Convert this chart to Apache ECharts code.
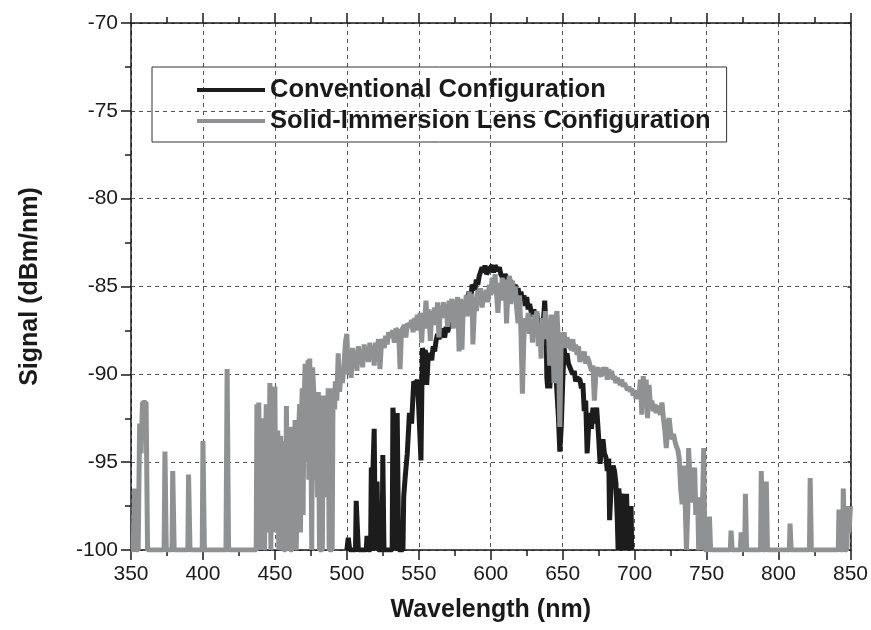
<!DOCTYPE html>
<html>
<head>
<meta charset="utf-8">
<script src="https://cdn.jsdelivr.net/npm/echarts@6/dist/echarts.min.js"></script>
<style>
  html, body { margin: 0; padding: 0; background: #fff; }
  #chart { width: 871px; height: 630px; }
</style>
</head>
<body>
<div id="chart"></div>
<script>
// x ticks (nm) and y ticks (dBm/nm)
const xTicks = [350, 400, 450, 500, 550, 600, 650, 700, 750, 800, 850]
const yTicks = [-100, -95, -90, -85, -80, -75, -70]

const seriesNames = ['Conventional Configuration', 'Solid-Immersion Lens Configuration']

// 常规配置 [wavelength, signal]
const conventional = [
  [500, -100], [501, -99.3], [502, -100], [506, -100], [506.5, -97.2], [507.5, -97.2], [508, -100],
  [513.5, -100], [514, -99.2], [514.8, -100], [516.5, -100], [517, -95.3], [518, -95.8], [519, -93.1],
  [519.8, -100], [520.5, -100], [521, -96.1], [521.8, -100], [524.5, -100], [525, -94.6], [525.8, -100],
  [531.5, -100], [532, -91.9], [533, -93], [534, -100], [535, -92.2], [536, -100], [539, -100],
  [539.5, -97], [540.5, -95.9], [542, -94.5], [543.5, -92.2], [545, -92.8], [546.5, -90.4], [548, -90.6],
  [549, -90.3], [550, -92], [551.5, -94.9], [552.5, -88.5], [553.5, -89], [554.5, -88.6], [555.5, -90.6],
  [556.5, -89.1], [557.6, -88.8], [559, -89.2], [560, -88.4], [561, -88.7], [562, -88.1], [563, -87.7],
  [564, -88], [565, -87.6], [566, -87.4], [568, -87.9], [569, -87.3], [570, -87.6], [571.5, -87.1],
  [573, -86.9], [575, -87.2], [577, -86.8], [578, -87.1], [580, -86.5], [582, -86.2], [583, -85.8],
  [585, -85.3], [586, -86], [587, -84.9], [588, -84.8], [589, -85.2], [590, -84.6], [591, -84.9],
  [592, -84.4], [593, -84.3], [594, -83.9], [595, -84.2], [596, -83.8], [597, -84.3], [598, -84.4],
  [599, -84], [600, -84.1], [601, -83.8], [602, -84.2], [603, -83.8], [604, -83.9], [605, -84.1],
  [606, -83.9], [607, -84.3], [608, -84.2], [609, -84.6], [610, -84.3], [611, -84.5], [612, -84.8],
  [613, -84.5], [614, -84.9], [615, -84.7], [616, -85.2], [617, -84.9], [618, -85.4], [619, -85.1],
  [620, -85.6], [621, -85.3], [622, -85.8], [623, -85.5], [624, -86.1], [625, -85.6], [626, -86.3],
  [627, -86], [628, -86.4], [629, -86.7], [630, -86.3], [631, -86.9], [632, -86.5], [633, -87.2],
  [634, -87.6], [635, -87.9], [636, -87.3], [637, -86.5], [637.5, -85.8], [638.5, -87.5], [639, -90.2],
  [639.6, -90.8], [640.5, -88], [641, -90.8], [642, -89.6], [643, -89], [644, -90.2], [645, -89.5],
  [646, -91], [647, -92.4], [648, -94.4], [649, -93], [650, -90.5], [651, -88.5], [652, -89.2],
  [653, -88.8], [654, -89.4], [655, -89.6], [656, -89.5], [657, -90], [658, -89.8], [659, -90.4],
  [660, -90.2], [661, -90.1], [662, -90.3], [663, -90.8], [664, -90.5], [665, -92.1], [666, -91.5],
  [667, -94.5], [668, -93], [669, -92.2], [670, -93.1], [671, -91.9], [672, -92.8], [673, -92.2],
  [673.6, -91.9], [675, -93.6], [676, -95.1], [677, -94], [678, -93.7], [679, -94.5], [680, -94.7],
  [681, -95.5], [682, -94.8], [682.6, -98.3], [684, -95.8], [685, -95.2], [686, -95.5], [687, -96.2],
  [688, -98.4], [688.5, -100], [689, -96.5], [690, -97.5], [690.5, -100], [691, -96.8], [692, -97.8],
  [692.5, -100], [693, -97.2], [694, -100], [694.4, -96.8], [695.3, -100], [696, -97.6], [697, -100],
  [697.5, -97.5], [698, -100]
]

// 固体浸没透镜配置 [wavelength, signal]
const solidImmersion = [
  [350, -100], [351.5, -100], [352.5, -96.5], [353.5, -100], [355, -100], [356, -92.8], [357, -94.5],
  [358, -91.6], [360.5, -91.6], [361.5, -100], [373, -100], [373.6, -94.4], [374.5, -100], [378.5, -100],
  [379, -95.5], [380, -100], [389.5, -100], [390, -95.7], [391, -100], [399.5, -100], [400, -93.8],
  [401, -100], [416, -100], [416.8, -89.7], [417.8, -100],
  [437, -100], [437.5, -91.7], [438.2, -100], [438.8, -91.6], [439.5, -97], [440, -93], [440.6, -100],
  [441.2, -96], [442, -92.5], [442.8, -100], [443.5, -94], [444, -91.7], [444.6, -99], [445.2, -93],
  [446, -95.5], [446.5, -90.5], [447.2, -100], [447.8, -93], [448.5, -91], [449.2, -97], [450, -90.7],
  [450.6, -99], [451.3, -94], [452, -93.2], [452.7, -100], [453.4, -96], [454, -93.5], [454.7, -98],
  [455.3, -93.8], [456, -100], [457.5, -100], [458, -91.8], [458.6, -97], [459.2, -93], [460, -95],
  [460.6, -100], [462, -100], [462.6, -93], [463.3, -97], [464, -92.6], [464.8, -100], [466, -100],
  [466.6, -93], [467.2, -91.7], [467.8, -99], [468.4, -92.5], [469, -90.8], [469.6, -98], [470.2, -92],
  [471, -89.4], [471.6, -95], [472.2, -93], [473, -89.2], [473.6, -96], [474.2, -89.1], [475, -93.5],
  [475.6, -100], [476.2, -89.6], [477, -91], [477.6, -96], [478.2, -94], [479, -93.2], [479.6, -97],
  [480.2, -91], [481, -100], [483, -100], [483.6, -91.2], [484.3, -96], [485, -95.7], [485.6, -92],
  [486.3, -97], [487, -90.8], [487.7, -100], [489.8, -100], [490.4, -90.8], [491.5, -92], [492, -90.4],
  [493, -91.5], [494, -88.8], [495, -91], [496, -89.9], [497, -90.5], [498, -89.5], [499, -88.2],
  [500, -87.7], [501, -90], [502, -89], [503, -90.2],
  [504, -88.5], [505, -89.5], [506, -88.7], [507, -89.8], [508, -88.4], [509, -89.2], [510, -88.6],
  [511, -89.6], [512, -88.3], [513, -89], [514, -88.5], [515, -89.3], [516, -88.2], [517, -88.8],
  [518, -88.4], [519, -89.5], [520, -88.2], [521, -88.6], [522, -88], [523, -89.7], [524, -88.3],
  [525, -88], [526, -88.5], [527, -87.8], [528, -88.3], [529, -87.6], [530, -87.9], [532, -87.5],
  [533, -88.2], [534, -87.4], [536, -87.6], [537, -89.7], [538, -87.5], [540, -87.2], [541, -87.9],
  [542, -87.1], [544, -87.3], [545, -86.9], [546, -87.6], [547, -86.8], [548, -87.5], [549, -86.6],
  [550, -87.2], [551, -86.5], [552, -88.2], [553, -86.6], [554, -87.2], [555, -85.8], [556, -87.4],
  [557, -86.3], [558, -88.1], [559, -86.4], [560, -86.9], [561, -86.2], [562, -87.2], [563, -85.9],
  [564, -87.9], [565, -86.1], [566, -86.8], [567, -85.9], [568, -86.6], [569, -86], [570, -87.3],
  [571, -85.8], [572, -86.5], [573, -85.7], [574, -87.4], [575, -85.9], [576, -86.2], [577, -85.6],
  [578, -88.7], [579, -85.7], [580, -88.6], [581, -85.9], [582, -86.3], [583, -85.5], [584, -86.7],
  [585, -85.3], [586, -86.1], [587, -85.4], [587.6, -88.3], [589, -85.6], [590, -86.4], [591, -85.2],
  [592, -85.9], [593, -85.1], [594, -86.2], [595, -85.4], [596, -85.6], [597, -85.2], [598, -85.9],
  [599, -84.9], [600, -85.5], [601, -84.5], [602, -85.4], [603, -84.3], [605, -86.5], [606, -84.8],
  [607, -85.8], [608, -84.5], [609, -85.2], [610, -84.6], [611, -87.1], [612, -85], [613, -84.4],
  [614, -86], [615, -84.7], [616, -85.5], [617, -85], [618, -86.2], [619, -87.1], [620, -85.5],
  [621, -87.6], [622, -91.1], [623, -88], [624, -86.8], [625, -87.5], [626, -86.5], [627, -87.7],
  [628, -86.9], [629, -88.2], [630, -86.6], [631, -87.3], [632, -86.4], [633, -88.4], [634, -87.2],
  [635, -89.1], [636, -86.8], [637, -88], [638, -86.4], [639, -87.8], [640, -87.2], [641, -89.5],
  [642, -86.6], [643, -87.5], [644, -90.5], [645, -86.9], [646, -86.4], [647, -88.2], [648, -93],
  [649, -87.6], [650, -88.3], [651, -87.6], [652, -88.5], [653, -87.9], [654, -88.2], [655, -88.1],
  [656, -88.6], [657, -88], [658, -88.7], [659, -88.3], [660, -88.9], [661, -88.4], [662, -89.3],
  [663, -88.8], [664, -89.1], [665, -88.7], [666, -89.4], [667, -89], [668, -89.2], [669, -89.1],
  [670, -89.8], [671, -89.5], [672, -91.5], [673, -90], [674, -89.6], [675, -89.9], [676, -89.8],
  [677, -90.1], [678, -89.6], [679, -90], [680, -89.6], [681, -90.3], [682, -89.7], [683, -90.2],
  [684, -89.8], [685, -90.3], [686, -90.1], [687, -90.5], [688, -90.2], [689, -90.4], [690, -90.6],
  [691, -90.3], [692, -90.7], [693, -90.5], [694, -90.6], [695, -90.9], [696, -90.7], [697, -91],
  [698, -90.8], [699, -91.2], [700, -90.9], [701, -91.4], [702, -91.1], [703, -91.3], [704, -90.3],
  [705, -92.3], [706, -90.1], [707, -91.5], [708, -90.3], [709, -92.5], [710, -90.6], [711, -91.8],
  [712, -91.5], [713, -92.1], [714, -91.7], [715, -92.2], [716, -91.8], [717, -92], [718, -92.3],
  [719, -91.6], [720, -92.5], [721, -93.2], [722, -94.2], [723, -92.8], [724, -92.5], [725, -93.3],
  [726, -93.7], [727, -93.4], [728, -93.8], [729, -94.1], [730, -94.3], [731, -94.8], [732, -96.5],
  [733, -97.4], [734, -95.2], [735, -97], [736, -100], [737, -97.5], [737.5, -94.2], [738.5, -96],
  [739, -97.3], [740, -96.5], [741.7, -95.3], [742.5, -98], [743.8, -97], [744.5, -100], [745, -100],
  [746, -99.4], [746.5, -100], [747.5, -100], [748, -94.2], [748.8, -100], [751.5, -100], [752, -98.1],
  [752.8, -100], [766.5, -100], [767, -98.9], [767.8, -100], [773.5, -100], [774, -99], [775, -100],
  [776.5, -100], [777, -96.8], [777.8, -100], [787.5, -100], [788, -95.5], [789, -100], [791, -100],
  [791.5, -96.1], [792.3, -100], [807.5, -100], [808, -98.5], [808.8, -100], [821.5, -100], [822, -95.9],
  [822.8, -100], [841.5, -100], [842, -97.7], [843, -100], [844.5, -100], [845, -96.5], [846, -100],
  [847.5, -100], [848, -97.5], [849, -99], [850, -97.5]
]

const FONT = '"Liberation Sans", Arial, sans-serif'
const AXIS_COLOR = '#1a1a1a'
const TEXT_COLOR = '#1a1a1a'

const chart = echarts.init(document.getElementById('chart'))

const baseX = {
  type: 'value',
  min: xTicks[0],
  max: xTicks[xTicks.length - 1],
  interval: 50,
  axisLine: { show: true, onZero: false, lineStyle: { color: AXIS_COLOR, width: 1.5 } },
  axisTick: { show: true, length: 10, lineStyle: { color: AXIS_COLOR, width: 1.5 } },
  minorTick: { show: true, splitNumber: 2, length: 6, lineStyle: { color: AXIS_COLOR, width: 1.5 } },
}
const baseY = {
  type: 'value',
  min: yTicks[0],
  max: yTicks[yTicks.length - 1],
  interval: 5,
  axisLine: { show: true, onZero: false, lineStyle: { color: AXIS_COLOR, width: 1.5 } },
  axisTick: { show: true, length: 10, lineStyle: { color: AXIS_COLOR, width: 1.5 } },
  minorTick: { show: true, splitNumber: 2, length: 6, lineStyle: { color: AXIS_COLOR, width: 1.5 } },
}

const option = {
  animation: false,
  backgroundColor: '#fff',
  grid: { left: 131, right: 20, top: 23, bottom: 80, containLabel: false },
  legend: {
    orient: 'vertical',
    left: 152,
    top: 67,
    data: seriesNames,
    icon: 'rect',
    itemWidth: 68,
    itemHeight: 4,
    itemGap: 5,
    padding: [10, 16, 8, 45],
    borderColor: '#333',
    borderWidth: 1,
    borderRadius: 0,
    textStyle: { fontFamily: FONT, fontWeight: 'bold', fontSize: 25.5, color: TEXT_COLOR, lineHeight: 26 },
  },
  xAxis: [
    {
      ...baseX,
      position: 'bottom',
      name: 'Wavelength (nm)',
      nameLocation: 'middle',
      nameGap: 48,
      nameTextStyle: { fontFamily: FONT, fontWeight: 'bold', fontSize: 25, color: TEXT_COLOR },
      axisLabel: { fontFamily: FONT, fontSize: 21, color: TEXT_COLOR, margin: 14 },
      splitLine: { show: true, lineStyle: { color: '#555', type: [4, 4], width: 1 } },
    },
    {
      ...baseX,
      position: 'top',
      axisLabel: { show: false },
      splitLine: { show: false },
    },
  ],
  yAxis: [
    {
      ...baseY,
      position: 'left',
      name: 'Signal (dBm/nm)',
      nameLocation: 'middle',
      nameGap: 88,
      nameTextStyle: { fontFamily: FONT, fontWeight: 'bold', fontSize: 25, color: TEXT_COLOR },
      axisLabel: { fontFamily: FONT, fontSize: 21, color: TEXT_COLOR, margin: 13 },
      splitLine: { show: true, lineStyle: { color: '#555', type: [4, 4], width: 1 } },
    },
    {
      ...baseY,
      position: 'right',
      axisTick: { show: true, inside: true, length: 3, lineStyle: { color: AXIS_COLOR, width: 1.5 } },
      minorTick: { show: false },
      axisLabel: { show: false },
      splitLine: { show: false },
    },
  ],
  series: [
    {
      name: seriesNames[0],
      type: 'line',
      data: conventional,
      symbol: 'none',
      lineStyle: { color: '#1c1c1c', width: 5 },
      itemStyle: { color: '#1c1c1c' },
      z: 3,
    },
    {
      name: seriesNames[1],
      type: 'line',
      data: solidImmersion,
      symbol: 'none',
      lineStyle: { color: '#909193', width: 5 },
      itemStyle: { color: '#909193' },
      z: 4,
    },
  ],
}

chart.setOption(option)
</script>
</body>
</html>
